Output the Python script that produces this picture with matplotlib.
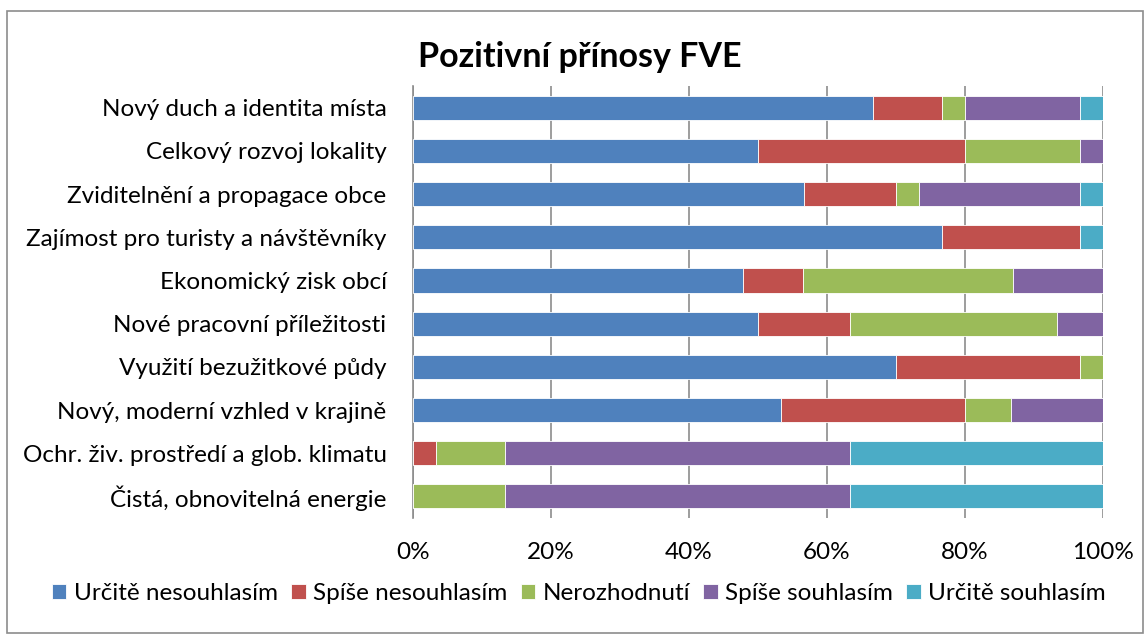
import numpy as np
import matplotlib.pyplot as plt
from matplotlib.patches import Rectangle

plt.rcParams['font.family'] = ['Lato', 'DejaVu Sans']

categories = ['Nový duch a identita místa', 'Celkový rozvoj lokality',
              'Zviditelnění a propagace obce', 'Zajímost pro turisty a návštěvníky',
              'Ekonomický zisk obcí', 'Nové pracovní příležitosti',
              'Využití bezužitkové půdy', 'Nový, moderní vzhled v krajině',
              'Ochr. živ. prostředí a glob. klimatu', 'Čistá, obnovitelná energie']

series = ['Určitě nesouhlasím', 'Spíše nesouhlasím', 'Nerozhodnutí',
          'Spíše souhlasím', 'Určitě souhlasím']

# counts of answers per category (converted to shares below)
urcite_nesouhlasim = [20, 15, 17, 23, 11, 15, 21, 16, 0, 0]
spise_nesouhlasim = [3, 9, 4, 6, 2, 4, 8, 8, 1, 0]
nerozhodnuti = [1, 5, 1, 0, 7, 9, 1, 2, 3, 4]
spise_souhlasim = [5, 1, 7, 0, 3, 2, 0, 4, 15, 15]
urcite_souhlasim = [1, 0, 1, 1, 0, 0, 0, 0, 11, 11]

colors = ['#4F81BD', '#C0504D', '#9BBB59', '#8064A2', '#4BACC6']

data = np.array([urcite_nesouhlasim, spise_nesouhlasim, nerozhodnuti,
                 spise_souhlasim, urcite_souhlasim], dtype=float)
shares = data / data.sum(axis=0) * 100

fig = plt.figure(figsize=(11.44, 6.34), dpi=100)
ax = fig.add_axes([0.361, 0.183, 0.603, 0.681])

y = np.arange(len(categories))
left = np.zeros(len(categories))
for i, name in enumerate(series):
    ax.barh(y, shares[i], left=left, height=0.56, color=colors[i],
            edgecolor='white', linewidth=0.6, label=name, zorder=3)
    left += shares[i]

ax.set_ylim(len(categories) - 0.5, -0.5)
ax.set_xlim(0, 100)
ax.set_yticks(y)
ax.set_yticklabels(categories, fontsize=17.5)
ax.set_xticks(np.arange(0, 101, 20))
ax.set_xticklabels([f'{v}%' for v in range(0, 101, 20)], fontsize=17.5)
ax.tick_params(axis='y', length=0, pad=19)
ax.tick_params(axis='x', length=0, pad=17)
ax.grid(axis='x', color='#8c8c8c', linewidth=1.2, zorder=0)
for s in ['top', 'right', 'bottom']:
    ax.spines[s].set_visible(False)
ax.spines['left'].set_color('#8c8c8c')
ax.spines['left'].set_linewidth(1.2)

fig.text(0.507, 0.91, 'Pozitivní přínosy FVE', fontsize=24.5, fontweight='bold',
         ha='center', va='center')

fig.legend(*ax.get_legend_handles_labels(), loc='center', bbox_to_anchor=(0.506, 0.064),
           ncol=5, frameon=False, fontsize=17.5, handlelength=0.6, handleheight=0.6,
           handletextpad=0.3, columnspacing=0.55, borderaxespad=0)

fig.patches.append(Rectangle((0.006, 0.002), 0.993, 0.981, transform=fig.transFigure,
                             fill=False, edgecolor='#8c8c8c', linewidth=1.2))

fig.savefig('out.png', dpi=100)
